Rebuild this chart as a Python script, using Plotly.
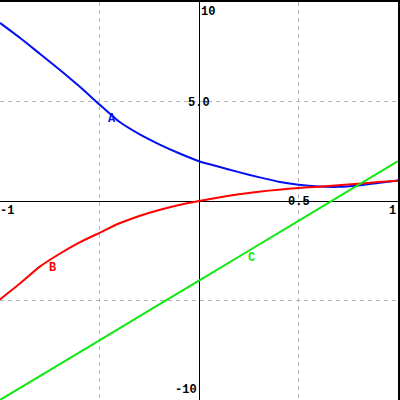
import plotly.graph_objects as go

# Series A (blue)
a_x = [-1.0, -0.9, -0.8, -0.7, -0.6, -0.5, -0.4, -0.3, -0.2, -0.1, 0.0, 0.1, 0.2, 0.3, 0.4, 0.5, 0.6, 0.7, 0.8, 0.9, 1.0]
a_y = [8.95, 8.2, 7.4, 6.6, 5.75, 4.85, 3.98, 3.36, 2.85, 2.4, 2.0, 1.72, 1.45, 1.2, 0.97, 0.82, 0.73, 0.71, 0.78, 0.9, 1.03]

# Series B (red)
b_x = [-1.0, -0.9, -0.8, -0.7, -0.6, -0.5, -0.4, -0.3, -0.2, -0.1, 0.0, 0.1, 0.2, 0.3, 0.4, 0.5, 0.6, 0.7, 0.8, 0.9, 1.0]
b_y = [-4.95, -4.15, -3.3, -2.65, -2.08, -1.6, -1.12, -0.75, -0.45, -0.2, 0.0, 0.18, 0.34, 0.47, 0.57, 0.65, 0.72, 0.79, 0.87, 0.95, 1.02]

# Series C (green)
c_x = [-1.0, -0.5, 0.0, 0.5, 1.0]
c_y = [-10.0, -7.0, -4.0, -1.0, 2.0]

series_names = ["A", "B", "C"]
series_colors = ["#0010f0", "#ff0000", "#10e810"]
label_x = [-0.435, -0.735, 0.265]
label_y = [4.1, -3.35, -2.85]

x_range = [-1, 1]
y_range = [-10, 10]
x_grid = [-0.5, 0.5]
y_grid = [-5, 5]

FONT = "Liberation Mono"

fig = go.Figure()
for xs, ys, name, col in zip([a_x, b_x, c_x], [a_y, b_y, c_y], series_names, series_colors):
    fig.add_trace(go.Scatter(x=xs, y=ys, mode="lines", name=name,
                             line=dict(color=col, width=2, shape="spline", smoothing=0.5),
                             showlegend=False, hoverinfo="skip"))

for name, col, lx, ly in zip(series_names, series_colors, label_x, label_y):
    fig.add_annotation(x=lx, y=ly, text="<b>" + name + "</b>", showarrow=False,
                       font=dict(family=FONT, size=12, color=col),
                       xanchor="center", yanchor="middle")

# Tick labels
tick_annots = [
    dict(x=0, y=10, text="10", xanchor="left", yanchor="top", yshift=-1, xshift=0),
    dict(x=0, y=5, text="5.0", xanchor="center", yanchor="middle", yshift=-1, xshift=0),
    dict(x=0, y=-10, text="-10", xanchor="right", yanchor="bottom", yshift=1, xshift=0),
    dict(x=-1, y=0, text="-1", xanchor="left", yanchor="top", yshift=-1, xshift=-2),
    dict(x=0.5, y=0, text="0.5", xanchor="center", yanchor="middle", yshift=-1, xshift=0),
    dict(x=1, y=0, text="1", xanchor="right", yanchor="top", yshift=-1, xshift=0),
]
for t in tick_annots:
    fig.add_annotation(x=t["x"], y=t["y"], text="<b>" + t["text"] + "</b>", showarrow=False,
                       font=dict(family=FONT, size=12, color="black"),
                       xanchor=t["xanchor"], yanchor=t["yanchor"],
                       xshift=t["xshift"], yshift=t["yshift"])

axis_common = dict(showticklabels=False, ticks="", showgrid=True, gridcolor="#b4b4b4",
                   gridwidth=1, griddash="4px,4px", zeroline=True, zerolinecolor="black",
                   zerolinewidth=1.2, showline=True, mirror=True, linecolor="black",
                   linewidth=2, fixedrange=True)

fig.update_layout(
    width=400, height=400,
    margin=dict(l=0, r=0, t=0, b=0),
    plot_bgcolor="white", paper_bgcolor="white",
    xaxis=dict(range=x_range, tickvals=x_grid, **axis_common),
    yaxis=dict(range=y_range, tickvals=y_grid, **axis_common),
)

fig.write_html("out.html", config={"displayModeBar": False},
               post_script="document.body.style.margin='0';document.body.style.overflow='hidden';")
